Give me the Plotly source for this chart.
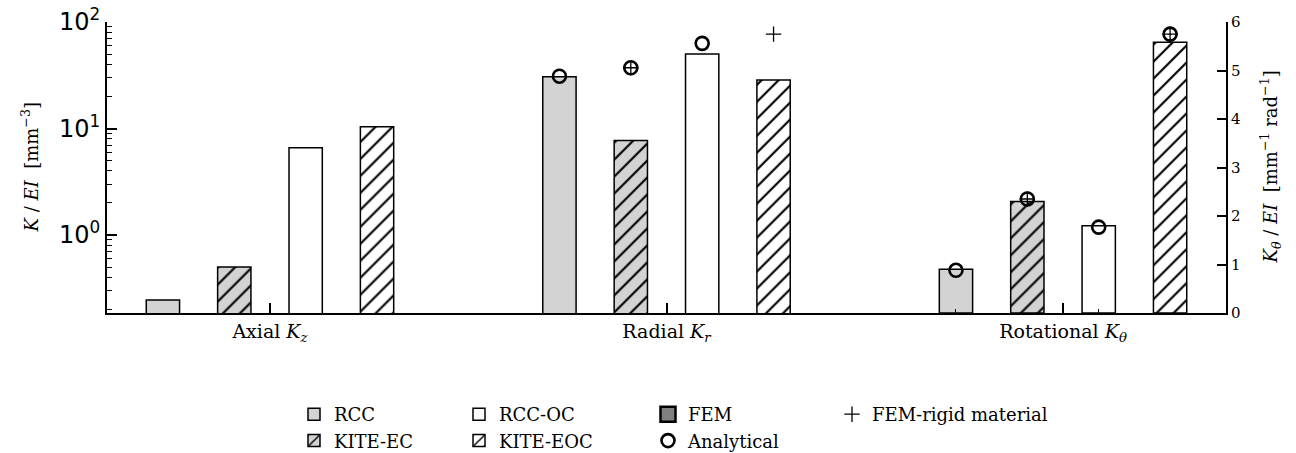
import plotly.graph_objects as go
import numpy as np

# ---------------- data ----------------
categories = ["Axial <i>K<sub>z</sub></i>", "Radial <i>K<sub>r</sub></i>", "Rotational <i>K<sub>θ</sub></i>"]
series_names = ["RCC", "KITE-EC", "RCC-OC", "KITE-EOC"]
# Axial and Radial on left (log) axis, Rotational on right (linear) axis
rcc_values = [0.245, 30.6, 0.90]
kite_ec_values = [0.50, 7.7, 2.30]
rcc_oc_values = [6.6, 50.0, 1.80]
kite_eoc_values = [10.4, 28.5, 5.58]

analytical_rcc = [None, 31.0, 0.88]
analytical_kite_ec = [None, 37.2, 2.35]
analytical_rcc_oc = [None, 63.0, 1.77]
analytical_kite_eoc = [None, None, 5.75]

fem_rigid_rcc = [None, None, None]
fem_rigid_kite_ec = [None, 37.2, 2.35]
fem_rigid_rcc_oc = [None, None, None]
fem_rigid_kite_eoc = [None, 77.0, 5.75]

left_tickvals = [1, 10, 100]
left_ticktext = ["10<sup>0</sup>", "10<sup>1</sup>", "10<sup>2</sup>"]
right_tickvals = [0, 1, 2, 3, 4, 5, 6]
left_title = "<i>K</i> / <i>EI</i>  [mm<sup>−3</sup>]"
right_title = "<i>K<sub>θ</sub></i> / <i>EI</i>  [mm<sup>−1</sup> rad<sup>−1</sup>]"

# ---------------- styling ----------------
offsets = [-0.27, -0.09, 0.09, 0.27]
bar_width = 0.084
fills = ["#d3d3d3", "#d3d3d3", "#ffffff", "#ffffff"]
hatched = [False, True, False, True]
legend_of = ["legend", "legend", "legend2", "legend2"]
SERIF = "DejaVu Serif"

values = [rcc_values, kite_ec_values, rcc_oc_values, kite_eoc_values]
analytical = [analytical_rcc, analytical_kite_ec, analytical_rcc_oc, analytical_kite_eoc]
fem_rigid = [fem_rigid_rcc, fem_rigid_kite_ec, fem_rigid_rcc_oc, fem_rigid_kite_eoc]

cat_idx = np.arange(len(categories))
fig = go.Figure()

for j, name in enumerate(series_names):
    marker = dict(color=fills[j], line=dict(color="black", width=1.5))
    if hatched[j]:
        marker["pattern"] = dict(shape="/", fgcolor="black", bgcolor=fills[j],
                                 size=12, solidity=0.18, fillmode="replace")
    xs = cat_idx + offsets[j]
    fig.add_trace(go.Bar(x=xs[:2], y=values[j][:2], width=bar_width, name=name,
                         marker=marker, yaxis="y", legend=legend_of[j],
                         legendgroup=name, showlegend=True))
    fig.add_trace(go.Bar(x=xs[2:], y=values[j][2:], width=bar_width, name=name,
                         marker=marker, yaxis="y2", legend=legend_of[j],
                         legendgroup=name, showlegend=False))

# FEM (legend only)
fig.add_trace(go.Scatter(x=[None], y=[None], mode="markers", name="FEM",
                         marker=dict(symbol="square", size=15, color="#808080",
                                     line=dict(color="black", width=2.5)),
                         legend="legend3"))

for j, name in enumerate(series_names):
    xs = cat_idx + offsets[j]
    a = analytical[j]
    f = fem_rigid[j]
    amk = dict(symbol="circle-open", size=13, color="black", line=dict(width=2.6))
    fmk = dict(symbol="cross-thin-open", size=11, color="black", line=dict(width=1.3))
    fig.add_trace(go.Scatter(x=xs[:2], y=a[:2], mode="markers", marker=amk, yaxis="y",
                             name="Analytical", legend="legend3", legendgroup="an",
                             showlegend=(j == 0)))
    fig.add_trace(go.Scatter(x=xs[2:], y=a[2:], mode="markers", marker=amk, yaxis="y2",
                             name="Analytical", legend="legend3", legendgroup="an",
                             showlegend=False))
    fig.add_trace(go.Scatter(x=xs[:2], y=f[:2], mode="markers", marker=fmk, yaxis="y",
                             name="FEM-rigid material", legend="legend4", legendgroup="fr",
                             showlegend=(j == 0)))
    fig.add_trace(go.Scatter(x=xs[2:], y=f[2:], mode="markers", marker=fmk, yaxis="y2",
                             name="FEM-rigid material", legend="legend4", legendgroup="fr",
                             showlegend=False))

leg_common = dict(orientation="v", xref="container", yref="container",
                  yanchor="top", y=1 - 396 / 453, xanchor="left",
                  font=dict(family=SERIF, size=18, color="black"),
                  bgcolor="rgba(0,0,0,0)", tracegroupgap=0, itemclick=False,
                  itemdoubleclick=False)

fig.update_layout(
    width=1296, height=453,
    margin=dict(l=107, r=70, t=22, b=140, autoexpand=False),
    paper_bgcolor="white", plot_bgcolor="white",
    barmode="overlay",
    showlegend=True,
    font=dict(family=SERIF, color="black"),
    xaxis=dict(range=[-0.411, 2.411], tickmode="array", tickvals=list(cat_idx),
               ticktext=categories, ticks="inside", ticklen=10, tickwidth=1.5,
               tickcolor="black", showline=True, linecolor="black", linewidth=2,
               showgrid=False, zeroline=False, mirror=False, automargin=False,
               tickfont=dict(family=SERIF, size=19, color="black"),
               minor=dict(tickmode="array", tickvals=[2 + offsets[0], 2 + offsets[2]],
                          ticks="inside", ticklen=4, tickwidth=1, tickcolor="black")),
    yaxis=dict(type="log", range=[-0.732, 2.0], tickmode="array",
               tickvals=left_tickvals, ticktext=left_ticktext,
               ticks="inside", ticklen=10, tickwidth=1.5, tickcolor="black",
               showline=True, linecolor="black", linewidth=2, automargin=False,
               showgrid=False, zeroline=False,
               tickfont=dict(family="DejaVu Sans", size=24, color="black"),
               minor=dict(tickmode="array",
                          tickvals=[m * 10 ** e for e in (-1, 0, 1) for m in range(2, 10)],
                          ticks="inside", ticklen=5, tickwidth=1, tickcolor="black")),
    yaxis2=dict(overlaying="y", side="right", range=[0, 6], tickmode="array",
                tickvals=right_tickvals, ticks="inside", ticklen=9, tickwidth=1.5,
                tickcolor="black", showline=True, linecolor="black", linewidth=2,
                showgrid=False, zeroline=False, automargin=False,
                tickfont=dict(family=SERIF, size=15, color="black")),
    legend=dict(leg_common, x=294 / 1296),
    legend2=dict(leg_common, x=459 / 1296),
    legend3=dict(leg_common, x=648 / 1296),
    legend4=dict(leg_common, x=832 / 1296),
    annotations=[
        dict(text=left_title, xref="paper", yref="paper", x=(30 - 107) / 1119, y=0.5,
             textangle=-90, showarrow=False, xanchor="center", yanchor="middle",
             font=dict(family=SERIF, size=18, color="black")),
        dict(text=right_title, xref="paper", yref="paper", x=(1270 - 107) / 1119, y=0.5,
             textangle=-90, showarrow=False, xanchor="center", yanchor="middle",
             font=dict(family=SERIF, size=18, color="black")),
    ],
)

fig.write_html("out.html")
